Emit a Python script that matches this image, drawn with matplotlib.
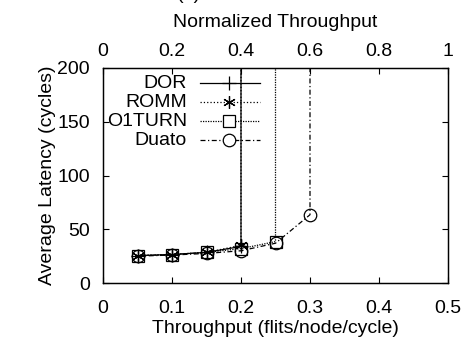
import matplotlib
matplotlib.use("Agg")
import matplotlib.pyplot as plt
from matplotlib.lines import Line2D

plt.rcParams["font.family"] = ["Liberation Sans", "DejaVu Sans"]
plt.rcParams["font.size"] = 14

# throughput (flits/node/cycle) and average latency (cycles)
dor_x = [0.05, 0.10, 0.15, 0.20, 0.20]
dor_y = [25.5, 26.5, 28.5, 34.0, 1000.0]
romm_x = [0.05, 0.10, 0.15, 0.20, 0.20]
romm_y = [25.5, 26.5, 28.5, 35.0, 1000.0]
o1turn_x = [0.05, 0.10, 0.15, 0.20, 0.25, 0.25]
o1turn_y = [25.5, 26.5, 28.5, 32.0, 38.5, 1000.0]
duato_x = [0.05, 0.10, 0.15, 0.20, 0.25, 0.30, 0.30]
duato_y = [25.0, 26.0, 27.5, 30.0, 37.0, 63.5, 1000.0]

series = [
    ("DOR", dor_x, dor_y, "-", "+", 10),
    ("ROMM", romm_x, romm_y, ":", (6, 2, 0), 9),
    ("O1TURN", o1turn_x, o1turn_y, (0, (1, 1)), "s", 9),
    ("Duato", duato_x, duato_y, (0, (4, 2, 1, 2)), "o", 9),
]

fig = plt.figure(figsize=(4.67, 3.47), dpi=100)
ax = fig.add_axes([103 / 467, 1 - 283 / 347, 345 / 467, 215 / 347])

for name, xs, ys, ls, mk, ms in series:
    ax.plot(xs, ys, color="black", linestyle=ls, linewidth=0.9,
            marker=mk, markersize=ms, markerfacecolor="none",
            markeredgecolor="black", markeredgewidth=0.9, clip_on=True)

ax.set_xlim(0, 0.5)
ax.set_ylim(0, 200)
ax.set_xticks([0, 0.1, 0.2, 0.3, 0.4, 0.5])
ax.set_xticklabels(["0", "0.1", "0.2", "0.3", "0.4", "0.5"])
ax.set_yticks([0, 50, 100, 150, 200])
ax.tick_params(direction="in", length=4, width=0.8, right=True)
ax.tick_params(axis="x", pad=12.5)
ax.tick_params(axis="y", pad=9.5)
ax.set_xlabel("Throughput (flits/node/cycle)", labelpad=2)
ax.set_ylabel("Average Latency (cycles)", labelpad=1)

top = ax.twiny()
top.set_xlim(0, 1)
top.set_xticks([0, 0.2, 0.4, 0.6, 0.8, 1])
top.set_xticklabels(["0", "0.2", "0.4", "0.6", "0.8", "1"])
top.tick_params(direction="in", length=4, width=0.8, pad=6)
top.set_xlabel("Normalized Throughput", labelpad=11)

for a in (ax, top):
    for sp in a.spines.values():
        sp.set_linewidth(0.9)

# gnuplot-style key: label right-aligned, sample to its right
for i, (name, xs, ys, ls, mk, ms) in enumerate(series):
    yk = 0.93 - i * 0.0884
    ax.text(0.243, yk, name, transform=ax.transAxes, ha="right", va="center")
    ax.add_line(Line2D([0.281, 0.455], [yk, yk], transform=ax.transAxes,
                       color="black", linestyle=ls, linewidth=0.9))
    ax.add_line(Line2D([0.365], [yk], transform=ax.transAxes, color="black",
                       marker=mk, markersize=ms, markerfacecolor="white",
                       markeredgecolor="black", markeredgewidth=0.9))

fig.text(177 / 467, 1 + 1 / 347, "(a)", ha="left", va="baseline")

fig.savefig("out.png", dpi=100)
